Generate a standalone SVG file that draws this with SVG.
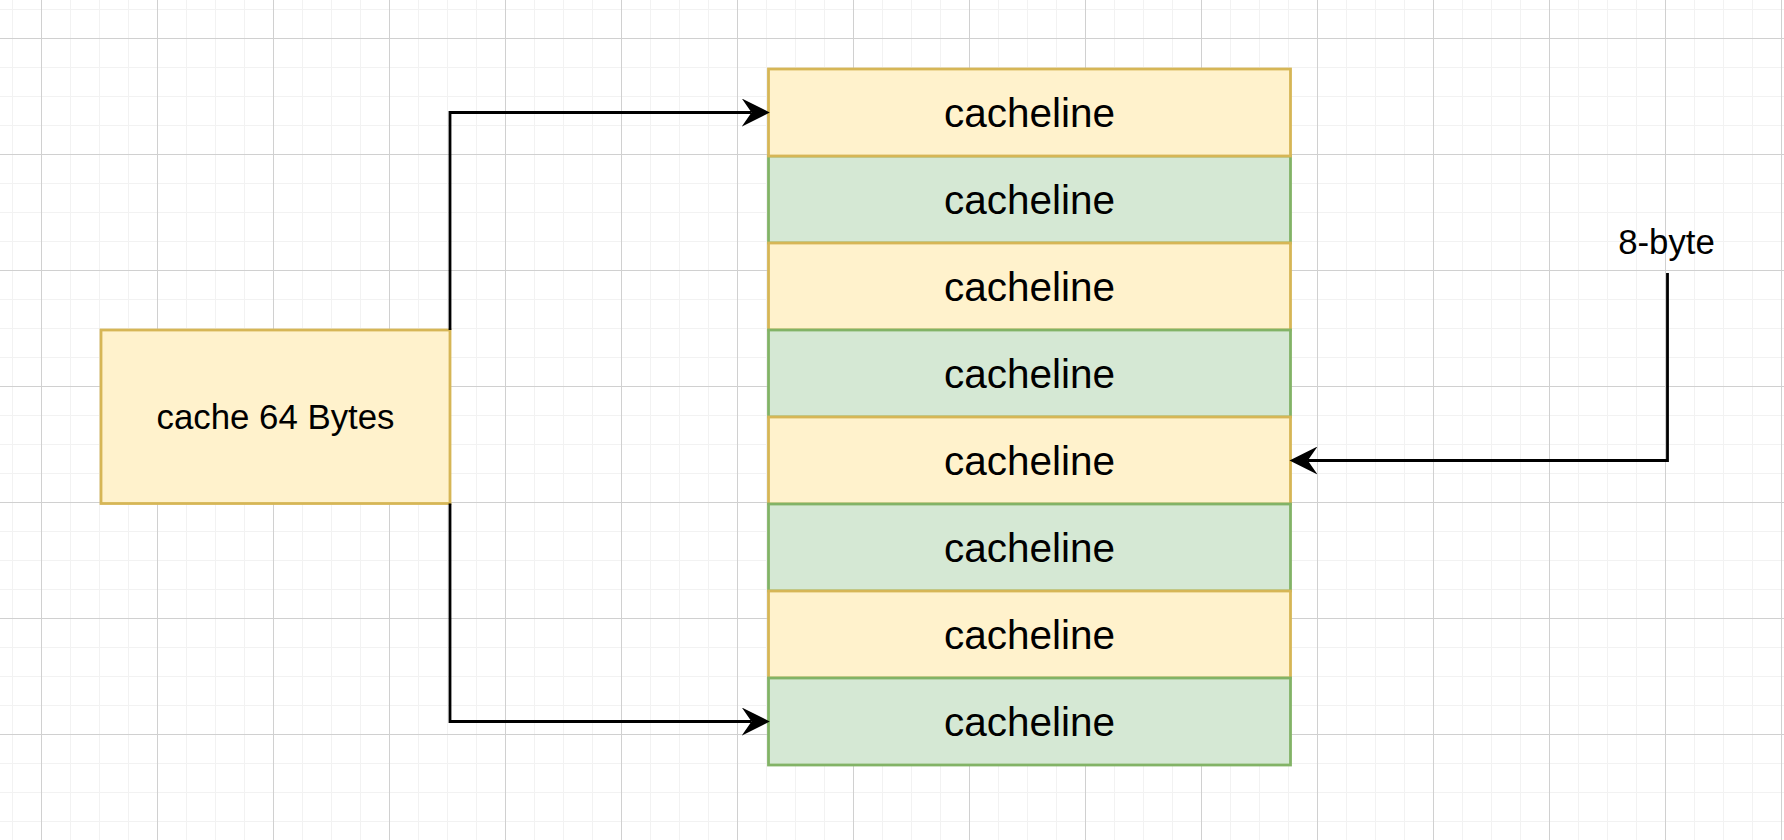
<svg xmlns="http://www.w3.org/2000/svg" width="1784" height="840" viewBox="0 0 1784 840">
  <style>
    .yel { fill: #fff2cc; stroke: #d6b656; stroke-width: 2.8; }
    .grn { fill: #d5e8d4; stroke: #82b366; stroke-width: 2.8; }
    .lbl { font-family: "Liberation Sans", Arial, sans-serif; fill: #000000; text-anchor: middle; }
    .big { font-size: 40.5px; }
    .mid { font-size: 34.8px; }
    .conn { fill: none; stroke: #000000; stroke-width: 2.8; }
  </style>
  <defs>
    <pattern id="grid" patternUnits="userSpaceOnUse" x="41" y="38" width="116" height="116">
      <path d="M29.5,0 V116 M58.5,0 V116 M87.5,0 V116 M0,29.5 H116 M0,58.5 H116 M0,87.5 H116" stroke="#f2f2f2" stroke-width="1" fill="none"/>
      <path d="M0.5,0 V116 M0,0.5 H116" stroke="#d0d0d0" stroke-width="1" fill="none"/>
    </pattern>
    <marker id="arrow" markerUnits="userSpaceOnUse" markerWidth="28" markerHeight="28" viewBox="0 0 26 26" refX="9" refY="13" orient="auto">
      <path d="M0,0 L26,13 L0,26 L9,13 Z" fill="#000000"/>
    </marker>
  </defs>
  <rect x="0" y="0" width="1784" height="840" fill="#ffffff"/>
  <rect x="0" y="0" width="1784" height="840" fill="url(#grid)"/>

  <g id="cache-block">
    <rect class="yel" x="101" y="330" width="349" height="173.5"/>
    <text class="lbl mid" x="275.5" y="428.5">cache 64 Bytes</text>
  </g>

  <g id="cacheline-2">
    <rect class="grn" x="768.5" y="156" width="522" height="87"/>
    <text class="lbl big" x="1029.5" y="213.5">cacheline</text>
  </g>
  <g id="cacheline-1">
    <rect class="yel" x="768.5" y="69" width="522" height="87"/>
    <text class="lbl big" x="1029.5" y="126.5">cacheline</text>
  </g>
  <g id="cacheline-3">
    <rect class="yel" x="768.5" y="243" width="522" height="87"/>
    <text class="lbl big" x="1029.5" y="300.5">cacheline</text>
  </g>
  <g id="cacheline-4">
    <rect class="grn" x="768.5" y="330" width="522" height="87"/>
    <text class="lbl big" x="1029.5" y="387.5">cacheline</text>
  </g>
  <g id="cacheline-5">
    <rect class="yel" x="768.5" y="417" width="522" height="87"/>
    <text class="lbl big" x="1029.5" y="474.5">cacheline</text>
  </g>
  <g id="cacheline-6">
    <rect class="grn" x="768.5" y="504" width="522" height="87"/>
    <text class="lbl big" x="1029.5" y="561.5">cacheline</text>
  </g>
  <g id="cacheline-7">
    <rect class="yel" x="768.5" y="591" width="522" height="87"/>
    <text class="lbl big" x="1029.5" y="648.5">cacheline</text>
  </g>
  <g id="cacheline-8">
    <rect class="grn" x="768.5" y="678" width="522" height="87"/>
    <text class="lbl big" x="1029.5" y="735.5">cacheline</text>
  </g>

  <g id="label-8byte">
    <text class="lbl mid" x="1666.5" y="254">8-byte</text>
  </g>

  <g id="connectors">
    <path class="conn" d="M450,330 V112.5 H751.5" marker-end="url(#arrow)"/>
    <path class="conn" d="M450,503.5 V721.5 H751.5" marker-end="url(#arrow)"/>
    <path class="conn" d="M1667.5,273 V460.5 H1307.8" marker-end="url(#arrow)"/>
  </g>
</svg>
